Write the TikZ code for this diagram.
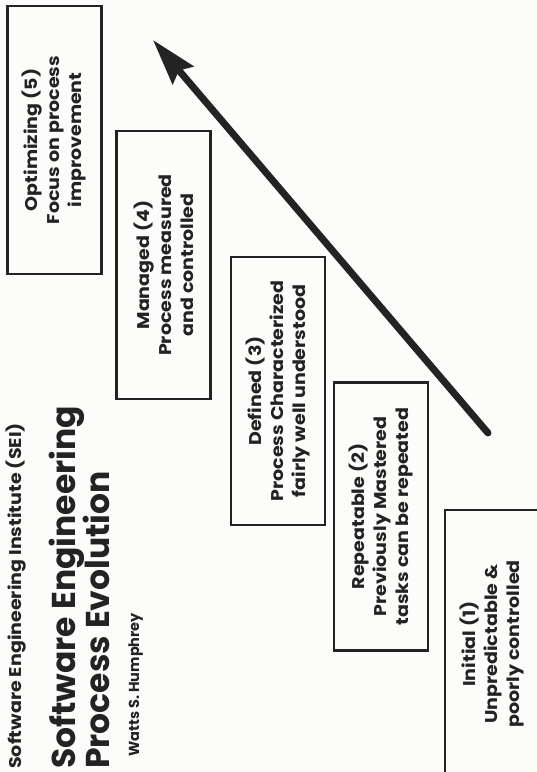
\documentclass[tikz,border=0pt]{standalone}
\usepackage{fontspec}
\usepackage{tikz}
\usetikzlibrary{arrows.meta}
\newfontfamily\popfont{Poppins}
\newfontfamily\popwide{Poppins}[FakeStretch=1.12]
\definecolor{inkcol}{RGB}{35,35,35}
\definecolor{papercol}{RGB}{252,252,250}

\begin{document}
\begin{tikzpicture}[
                x=1pt, y=-1pt,
                stagebox/.style={draw=inkcol, line width=2.8pt, rotate=90, minimum width=268pt, minimum height=94pt, align=center, inner sep=2pt, text=inkcol, font=\popwide\bfseries\fontsize{17}{22}\selectfont},
                titletext/.style={rotate=90, anchor=base west, inner sep=0pt, text=inkcol, font=\popfont\bfseries},
                evoarrow/.style={-{Stealth[length=46pt, width=27pt, inset=6pt]}, line width=7pt, draw=inkcol, line cap=round}
                ]
                \fill[papercol] (0,0) rectangle (537,772);
                \useasboundingbox (0,0) rectangle (537,772);
                \clip (0,0) rectangle (537,772);

                % title block, read from bottom to top
                \node[titletext, font=\popwide\bfseries\fontsize{17}{19}\selectfont] (sei) at (21,769) {Software Engineering Institute (SEI)};
                \node[titletext, font=\popfont\bfseries\fontsize{33}{36}\selectfont] (title1) at (75,769) {Software Engineering};
                \node[titletext, font=\popfont\bfseries\fontsize{33}{36}\selectfont] (title2) at (109,769) {Process Evolution};
                \node[titletext, font=\popfont\bfseries\fontsize{14.5}{16}\selectfont] (author) at (139,757) {Watts S. Humphrey};

                % the five maturity levels
                \node[stagebox] (opt) at (54.5,140) {Optimizing (5)\\Focus on process\\improvement};
                \node[stagebox] (man) at (163.5,265) {Managed (4)\\Process measured\\and controlled};
                \node[stagebox] (def) at (278,391) {Defined (3)\\Process Characterized\\fairly well understood};
                \node[stagebox] (rep) at (381,516.5) {Repeatable (2)\\Previously Mastered\\tasks can be repeated};
                \node[stagebox] (ini) at (492,644) {Initial (1)\\Unpredictable \&\\poorly controlled};

                \coordinate (tail) at (488,433);
                \coordinate (tip) at (153,40);
                \draw[evoarrow] (tail) -- (tip);
            \end{tikzpicture}
\end{document}
